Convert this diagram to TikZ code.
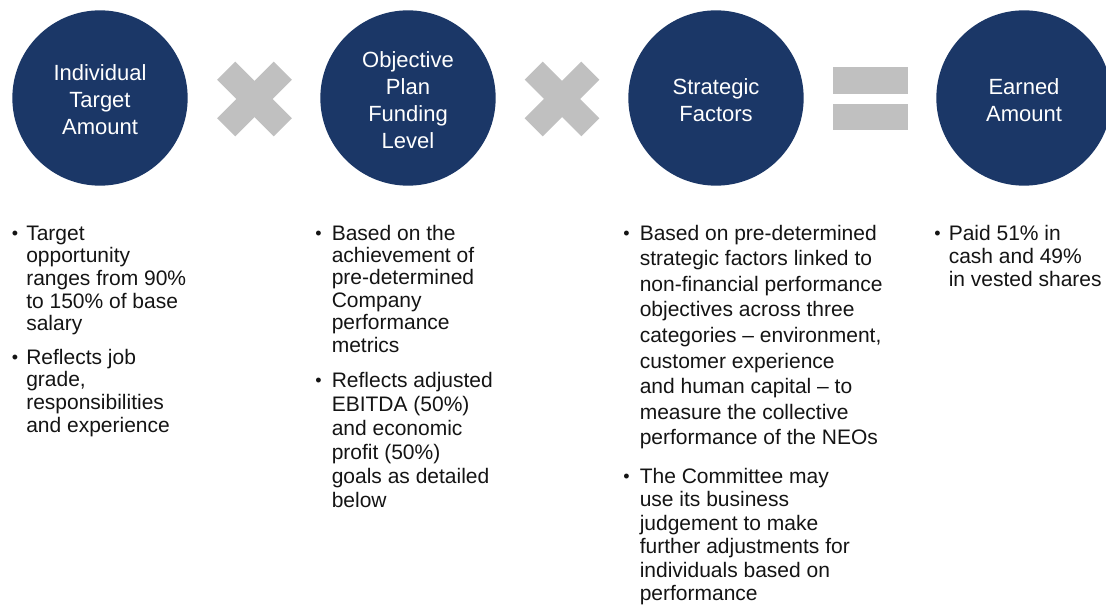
\documentclass[tikz,border=0pt]{standalone}
\usepackage{fontspec}
\setmainfont{Liberation Sans}
\definecolor{navy}{RGB}{27,55,103}
\definecolor{signgray}{RGB}{192,192,192}
\definecolor{bodytext}{RGB}{20,20,20}
% body paragraph: first baseline sits on the node's base anchor
\newcommand{\paralines}[2]{\parbox[t]{240pt}{\raggedright\fontsize{15.75pt}{#1}\selectfont #2}}
\begin{document}
\begin{tikzpicture}[x=0.75pt,y=-0.75pt,
  stage/.style={circle,fill=navy,draw=none,minimum size=131.5pt,inner sep=0pt},
  stagetext/.style={inner sep=0pt,text=white,align=center,font=\fontsize{16.5pt}{20.25pt}\selectfont},
  xbar/.style={rectangle,fill=signgray,draw=none,minimum width=60pt,minimum height=19.1pt,inner sep=0pt},
  eqbar/.style={rectangle,fill=signgray,draw=none,minimum width=56.25pt,minimum height=20pt,inner sep=0pt},
  bul/.style={anchor=base west,inner sep=0pt,text=bodytext,font=\fontsize{13.5pt}{15pt}\selectfont},
  para/.style={anchor=base west,inner sep=0pt,text=bodytext}]
\useasboundingbox (0,0) rectangle (1106,606);

% formula: target x funding x strategic = earned
\node[stage] (target) at (100,98) {};
\node[stage] (funding) at (408,98) {};
\node[stage] (strategic) at (716,98) {};
\node[stage] (earned) at (1024,98) {};
\node[stagetext] (targetlbl) at ([yshift=-1.5pt]target.center) {Individual\\Target\\Amount};
\node[stagetext] (fundinglbl) at ([yshift=-1.5pt]funding.center) {Objective\\Plan\\Funding\\Level};
\node[stagetext] (strategiclbl) at ([yshift=-1.5pt]strategic.center) {Strategic\\Factors};
\node[stagetext] (earnedlbl) at ([yshift=-1.5pt]earned.center) {Earned\\Amount};

% multiplication signs
\node[xbar,rotate=45] (times1a) at (254.5,99) {};
\node[xbar,rotate=-45] (times1b) at (254.5,99) {};
\node[xbar,rotate=45] (times2a) at (562,99) {};
\node[xbar,rotate=-45] (times2b) at (562,99) {};

% equals sign
\node[eqbar] (eqtop) at (870.5,80.3) {};
\node[eqbar] (eqbot) at (870.5,117) {};

% column 1
\node[bul] (b1a) at (11.5,239) {\textbullet};
\node[para] (t1a) at (26,240) {\paralines{17.06pt}{Target\\opportunity\\ranges from 90\%\\to 150\% of base\\salary}};
\node[bul] (b1b) at (11.5,363) {\textbullet};
\node[para] (t1b) at (26,364) {\paralines{17.1pt}{Reflects job\\grade,\\responsibilities\\and experience}};

% column 2
\node[bul] (b2a) at (315,239) {\textbullet};
\node[para] (t2a) at (331.5,240) {\paralines{16.8pt}{Based on the\\achievement of\\pre-determined\\Company\\performance\\metrics}};
\node[bul] (b2b) at (315,386) {\textbullet};
\node[para] (t2b) at (331.5,387) {\paralines{18pt}{Reflects adjusted\\EBITDA (50\%)\\and economic\\profit (50\%)\\goals as detailed\\below}};

% column 3
\node[bul] (b3a) at (623,239) {\textbullet};
\node[para] (t3a) at (639.5,240) {\paralines{19.2pt}{Based on pre-determined\\strategic factors linked to\\non-financial performance\\objectives across three\\categories – environment,\\customer experience\\and human capital – to\\measure the collective\\performance of the NEOs}};
\node[bul] (b3b) at (623,482.5) {\textbullet};
\node[para] (t3b) at (639.5,483.5) {\paralines{17.6pt}{The Committee may\\use its business\\judgement to make\\further adjustments for\\individuals based on\\performance}};

% column 4
\node[bul] (b4a) at (934,239) {\textbullet};
\node[para] (t4a) at (948.5,240) {\paralines{17.25pt}{Paid 51\% in\\cash and 49\%\\in vested shares}};
\end{tikzpicture}
\end{document}
